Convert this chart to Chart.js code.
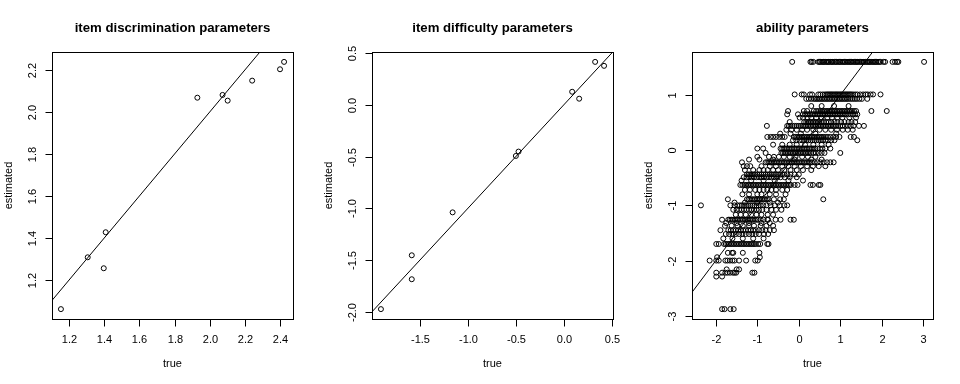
<!DOCTYPE html>
<html>
<head>
<meta charset="utf-8">
<script src="https://cdn.jsdelivr.net/npm/chart.js@4.4.1/dist/chart.umd.min.js"></script>
<style>
  html, body { margin: 0; padding: 0; background: #fff; }
  #wrap { position: relative; width: 960px; height: 384px; }
  canvas { position: absolute; top: 0; }
</style>
</head>
<body>
<div id="wrap">
  <canvas id="c1" width="320" height="384" style="left:0px"></canvas>
  <canvas id="c2" width="320" height="384" style="left:320px"></canvas>
  <canvas id="c3" width="320" height="384" style="left:640px"></canvas>
</div>
<script>
// ---------- DATA ----------
const titles = ["item discrimination parameters", "item difficulty parameters", "ability parameters"];
const xAxisLabel = "true";
const yAxisLabel = "estimated";

// panel 1: item discrimination
const discTrue = [1.155, 1.307, 1.398, 1.409, 1.929, 2.072, 2.101, 2.240, 2.398, 2.421];
const discEst  = [1.063, 1.309, 1.257, 1.428, 2.067, 2.080, 2.053, 2.148, 2.202, 2.237];
const discXTicks = [1.2, 1.4, 1.6, 1.8, 2.0, 2.2, 2.4];
const discXLabels = ["1.2", "1.4", "1.6", "1.8", "2.0", "2.2", "2.4"];
const discYTicks = [1.2, 1.4, 1.6, 1.8, 2.0, 2.2];
const discYLabels = ["1.2", "1.4", "1.6", "1.8", "2.0", "2.2"];

// panel 2: item difficulty
const diffTrue = [-1.904, -1.583, -1.583, -1.158, -0.500, -0.472, 0.086, 0.159, 0.325, 0.418];
const diffEst  = [-1.971, -1.452, -1.683, -1.038, -0.494, -0.452, 0.125, 0.058, 0.413, 0.375];
const diffXTicks = [-1.5, -1.0, -0.5, 0.0, 0.5];
const diffXLabels = ["-1.5", "-1.0", "-0.5", "0.0", "0.5"];
const diffYTicks = [-2.0, -1.5, -1.0, -0.5, 0.0, 0.5];
const diffYLabels = ["-2.0", "-1.5", "-1.0", "-0.5", "0.0", "0.5"];

// panel 3: ability (estimated levels, and true values read for each level)
const abilityEstLevels = [1.60, 1.01, 0.93, 0.80, 0.71, 0.65, 0.59, 0.51, 0.44, 0.37, 0.30, 0.24, 0.18, 0.10, 0.03, -0.05, -0.12,
  -0.17, -0.22, -0.29, -0.36, -0.44, -0.49, -0.55, -0.63, -0.72, -0.80, -0.89, -0.95, -1.00, -1.08, -1.17, -1.26, -1.32, -1.37, -1.45, -1.52,
  -1.60, -1.70, -1.86, -1.94, -2.00, -2.16, -2.22, -2.29, -2.88];
const abilityTrueByLevel = [
  [-0.16, 0.28, 0.31, 0.35, 0.47, 0.50, 0.52, 0.56, 0.59, 0.61, 0.65, 0.68, 0.71, 0.73, 0.77, 0.80, 0.82, 0.86, 0.89, 0.91, 0.95, 0.98, 1.00, 1.04, 1.07, 1.10, 1.12, 1.16, 1.19, 1.22, 1.25, 1.27, 1.31, 1.34, 1.37, 1.40, 1.42, 1.46, 1.49, 1.52, 1.55, 1.57, 1.61, 1.64, 1.67, 1.70, 1.72, 1.76, 1.79, 1.82, 1.85, 1.87, 1.91, 1.94, 1.97, 2.04, 2.08, 2.26, 2.32, 2.37, 2.40, 3.02],
  [-0.10, 0.07, 0.12, 0.27, 0.32, 0.47, 0.52, 0.58, 0.63, 0.67, 0.70, 0.73, 0.76, 0.79, 0.82, 0.85, 0.88, 0.91, 0.94, 0.97, 1.00, 1.03, 1.06, 1.09, 1.12, 1.15, 1.18, 1.21, 1.24, 1.27, 1.31, 1.36, 1.41, 1.48, 1.55, 1.61, 1.66, 1.73, 1.79, 1.97],
  [0.18, 0.24, 0.30, 0.36, 0.40, 0.44, 0.48, 0.52, 0.56, 0.60, 0.64, 0.68, 0.72, 0.76, 0.80, 0.84, 0.88, 0.92, 0.96, 1.00, 1.04, 1.08, 1.12, 1.16, 1.20, 1.25, 1.30, 1.35, 1.40, 1.46, 1.52, 1.65],
  [0.30, 0.55, 0.85, 1.20],
  [-0.26, 0.12, 0.20, 0.36, 0.42, 0.47, 0.52, 0.56, 0.60, 0.64, 0.68, 0.72, 0.76, 0.80, 0.84, 0.88, 0.92, 0.96, 1.00, 1.04, 1.08, 1.12, 1.16, 1.20, 1.24, 1.28, 1.33, 1.38, 1.75, 2.12],
  [-0.28, -0.02, 0.10, 0.15, 0.19, 0.23, 0.27, 0.31, 0.35, 0.39, 0.43, 0.47, 0.51, 0.55, 0.59, 0.63, 0.67, 0.71, 0.75, 0.79, 0.83, 0.87, 0.91, 0.95, 0.99, 1.03, 1.07, 1.11, 1.15, 1.20, 1.25, 1.31, 1.36, 1.41],
  [0.02, 0.10, 0.21, 0.30, 0.42, 0.55, 0.69, 0.80, 0.93, 1.05, 1.22, 1.38],
  [-0.22, 0.13, 0.18, 0.22, 0.26, 0.30, 0.34, 0.38, 0.42, 0.46, 0.50, 0.55, 0.60, 0.66, 0.72, 0.78, 0.86, 0.93, 1.02, 1.10, 1.20, 1.27, 1.36],
  [-0.77, -0.28, -0.24, -0.20, -0.15, -0.10, -0.05, 0.00, 0.05, 0.10, 0.14, 0.18, 0.22, 0.26, 0.30, 0.34, 0.38, 0.42, 0.46, 0.50, 0.54, 0.58, 0.62, 0.66, 0.70, 0.74, 0.78, 0.82, 0.86, 0.90, 0.95, 1.00, 1.05, 1.11, 1.18, 1.25, 1.32, 1.45, 1.57],
  [-0.30, -0.18, -0.05, 0.08, 0.20, 0.35, 0.50, 0.64, 0.78, 0.92, 1.06, 1.18, 1.30],
  [-0.45, -0.20, 0.05, 0.40, 0.90],
  [-0.76, -0.68, -0.62, -0.55, -0.47, -0.40, -0.34, -0.12, -0.08, -0.04, 0.00, 0.04, 0.08, 0.12, 0.16, 0.20, 0.24, 0.28, 0.32, 0.36, 0.40, 0.44, 0.48, 0.52, 0.56, 0.60, 0.65, 0.70, 0.76, 0.83, 0.90, 0.98, 1.25, 1.33],
  [-0.14, -0.06, 0.02, 0.08, 0.13, 0.18, 0.23, 0.28, 0.33, 0.38, 0.43, 0.48, 0.53, 0.58, 0.64, 0.70, 0.78, 0.86, 1.41],
  [-0.62, -0.40, -0.22, -0.05, 0.15, 0.35, 0.55, 0.72],
  [-1.00, -0.86, -0.44, -0.40, -0.36, -0.32, -0.28, -0.24, -0.20, -0.16, -0.12, -0.08, -0.04, 0.00, 0.04, 0.08, 0.12, 0.16, 0.20, 0.24, 0.28, 0.32, 0.36, 0.40, 0.45, 0.51, 0.57, 0.64, 0.76],
  [-0.80, -0.42, -0.38, -0.34, -0.30, -0.26, -0.22, -0.18, -0.14, -0.10, -0.06, -0.02, 0.02, 0.06, 0.10, 0.14, 0.18, 0.22, 0.26, 0.30, 0.35, 0.41, 0.48, 0.55, 0.62, 1.00],
  [-1.00, -0.72, -0.60, -0.48, -0.36, -0.22, -0.08, 0.08, 0.22, 0.40],
  [-1.20, -0.95, -0.62, -0.10, 0.30, 0.55],
  [-1.37, -0.80, -0.76, -0.72, -0.68, -0.64, -0.60, -0.56, -0.52, -0.48, -0.44, -0.40, -0.36, -0.32, -0.28, -0.24, -0.20, -0.16, -0.12, -0.08, -0.04, 0.00, 0.04, 0.08, 0.12, 0.16, 0.20, 0.24, 0.28, 0.32, 0.38, 0.45, 0.52, 0.60, 0.68, 0.76, 0.84],
  [-1.33, -1.25, -1.17, -0.90, -0.70, -0.55, -0.40, -0.25, -0.10, 0.05, 0.20, 0.34, 0.48, 0.64],
  [-1.30, -1.10, -0.95, -0.85, -0.75, -0.62, -0.50, -0.35, -0.20, -0.05, 0.10, 0.30],
  [-1.25, -1.21, -1.17, -1.13, -1.09, -1.05, -1.00, -0.95, -0.90, -0.85, -0.80, -0.75, -0.70, -0.65, -0.60, -0.55, -0.50, -0.45, -0.40, -0.35, -0.28, -0.20, -0.10, 0.00],
  [-1.33, -1.26, -1.20, -1.14, -1.08, -1.02, -0.96, -0.90, -0.84, -0.78, -0.72, -0.66, -0.60, -0.52, -0.44, -0.34, -0.22, -0.05],
  [-1.38, -1.15, -0.85, -0.58, -0.25, 0.10],
  [-1.41, -1.36, -1.31, -1.27, -1.23, -1.19, -1.15, -1.11, -1.07, -1.03, -0.99, -0.95, -0.91, -0.87, -0.83, -0.79, -0.75, -0.71, -0.67, -0.63, -0.59, -0.55, -0.51, -0.47, -0.43, -0.39, -0.35, -0.31, -0.27, -0.23, -0.19, -0.10, -0.03, 0.28, 0.34, 0.48, 0.52],
  [-1.30, -1.18, -1.05, -0.95, -0.85, -0.76, -0.66, -0.55, -0.40, -0.28],
  [-1.36, -1.20, -1.00, -0.90, -0.70, -0.55, -0.32],
  [-1.71, -1.25, -1.21, -1.17, -1.13, -1.09, -1.05, -1.01, -0.97, -0.93, -0.89, -0.85, -0.81, -0.77, -0.73, -0.60, -0.45, -0.36, 0.59],
  [-1.55, -1.30, -1.00, -0.70, -0.50],
  [-2.36, -1.65, -1.55, -1.48, -1.42, -1.37, -1.32, -1.27, -1.22, -1.17, -1.12, -1.07, -1.02, -0.97, -0.92, -0.86, -0.78, -0.68, -0.58, -0.46, -0.35, -0.28],
  [-1.58, -1.50, -1.44, -1.38, -1.32, -1.26, -1.20, -1.14, -1.08, -1.02, -0.96, -0.88, -0.78, -0.66, -0.55, -0.42],
  [-1.52, -1.40, -1.28, -1.15, -1.02, -0.90, -0.75, -0.62],
  [-1.85, -1.70, -1.66, -1.62, -1.58, -1.54, -1.50, -1.46, -1.42, -1.38, -1.34, -1.30, -1.26, -1.22, -1.18, -1.14, -1.10, -1.06, -1.02, -0.98, -0.92, -0.85, -0.76, -0.74, -0.56, -0.44, -0.20, -0.12],
  [-1.75, -1.50, -1.20, -0.90, -0.70],
  [-1.78, -1.62, -1.48, -1.35, -1.20, -1.08, -0.92, -0.78, -0.62],
  [-1.89, -1.70, -1.64, -1.58, -1.52, -1.46, -1.40, -1.34, -1.28, -1.22, -1.16, -1.10, -1.04, -0.96, -0.88, -0.80, -0.70, -0.60],
  [-1.76, -1.68, -1.60, -1.52, -1.44, -1.36, -1.28, -1.20, -1.12, -1.04, -0.96, -0.84, -0.74],
  [-1.82, -1.60, -1.35, -1.10, -0.85],
  [-1.99, -1.93, -1.80, -1.76, -1.72, -1.68, -1.64, -1.60, -1.56, -1.52, -1.48, -1.44, -1.40, -1.36, -1.32, -1.28, -1.24, -1.20, -1.16, -1.12, -1.08, -1.04, -0.98, -0.93, -0.76, -0.73],
  [-1.71, -1.61, -1.58, -1.35, -0.95],
  [-1.97, -0.94],
  [-2.15, -1.99, -1.93, -1.77, -1.72, -1.66, -1.60, -1.55, -1.44, -1.27, -1.05, -0.99],
  [-1.74, -1.50, -1.44],
  [-1.99, -1.85, -1.77, -1.72, -1.66, -1.59, -1.55, -1.51, -1.12, -1.07],
  [-1.99, -1.85],
  [-1.85, -1.79, -1.65, -1.57]
];
const abilXTicks = [-2, -1, 0, 1, 2, 3];
const abilXLabels = ["-2", "-1", "0", "1", "2", "3"];
const abilYTicks = [-3, -2, -1, 0, 1];
const abilYLabels = ["-3", "-2", "-1", "0", "1"];

// ---------- DRAWING ----------
const FONT = '"Liberation Sans", Arial, Helvetica, sans-serif';

function rRange(vals) { // R default axis range: data range extended by 4%
  const mn = Math.min(...vals), mx = Math.max(...vals), d = (mx - mn) * 0.04;
  return [mn - d, mx + d];
}

const rAxes = {
  id: 'rAxes',
  afterDraw(chart, args, o) {
    const { ctx, chartArea: a, scales: { x, y } } = chart;
    ctx.save();
    ctx.strokeStyle = '#000';
    ctx.lineWidth = 1;
    const L = Math.round(a.left) + 0.5, T = Math.round(a.top) + 0.5;
    const R = Math.round(a.right) + 0.5, B = Math.round(a.bottom) + 0.5;
    ctx.strokeRect(L, T, R - L, B - T);
    ctx.fillStyle = '#000';
    ctx.font = '11px ' + FONT;
    ctx.textAlign = 'center';
    ctx.textBaseline = 'middle';
    o.xTicks.forEach((v, i) => {
      const px = Math.round(x.getPixelForValue(v)) + 0.5;
      ctx.beginPath(); ctx.moveTo(px, B); ctx.lineTo(px, B + 7); ctx.stroke();
      ctx.fillText(o.xLabels[i], px, 340);
    });
    o.yTicks.forEach((v, i) => {
      const py = Math.round(y.getPixelForValue(v)) + 0.5;
      ctx.beginPath(); ctx.moveTo(L, py); ctx.lineTo(L - 7, py); ctx.stroke();
      ctx.save();
      ctx.translate(33, py);
      ctx.rotate(-Math.PI / 2);
      ctx.fillText(o.yLabels[i], 0, 0);
      ctx.restore();
    });
    // axis titles
    const cx = (a.left + a.right) / 2, cy = (a.top + a.bottom) / 2;
    ctx.fillText(xAxisLabel, cx, 364);
    ctx.save();
    ctx.translate(8.5, cy);
    ctx.rotate(-Math.PI / 2);
    ctx.fillText(yAxisLabel, 0, 0);
    ctx.restore();
    // main title
    ctx.font = 'bold 13.2px ' + FONT;
    ctx.fillText(o.title, cx, 28);
    ctx.restore();
  }
};

function makePanel(id, title, xs, ys, xTicks, xLabels, yTicks, yLabels) {
  const xr = rRange(xs), yr = rRange(ys);
  const pts = xs.map((v, i) => ({ x: v, y: ys[i] }));
  const lo = Math.min(xr[0], yr[0]) - 1, hi = Math.max(xr[1], yr[1]) + 1;
  new Chart(document.getElementById(id), {
    type: 'scatter',
    data: {
      datasets: [
        {
          data: pts,
          pointStyle: 'circle',
          pointRadius: 2.5,
          pointHoverRadius: 2.5,
          borderWidth: 1,
          borderColor: '#000',
          backgroundColor: 'rgba(0,0,0,0)',
          clip: 0
        },
        {
          type: 'line',
          data: [{ x: lo, y: lo }, { x: hi, y: hi }],
          borderColor: '#000',
          borderWidth: 1,
          pointRadius: 0,
          fill: false,
          clip: 0
        }
      ]
    },
    options: {
      responsive: false,
      animation: false,
      devicePixelRatio: 1,
      layout: { padding: { left: 0, top: 52, right: 27, bottom: 0 } },
      plugins: {
        legend: { display: false },
        tooltip: { enabled: false },
        title: { display: false },
        rAxes: { title, xTicks, xLabels, yTicks, yLabels }
      },
      scales: {
        x: {
          type: 'linear', min: xr[0], max: xr[1],
          grid: { display: false }, border: { display: false },
          ticks: { display: false },
          afterFit(s) { s.height = 65; }
        },
        y: {
          type: 'linear', min: yr[0], max: yr[1],
          grid: { display: false }, border: { display: false },
          ticks: { display: false },
          afterFit(s) { s.width = 52; }
        }
      }
    },
    plugins: [rAxes]
  });
}

const abilTrue = [], abilEst = [];
abilityEstLevels.forEach((lv, i) => {
  abilityTrueByLevel[i].forEach(t => { abilTrue.push(t); abilEst.push(lv); });
});

makePanel('c1', titles[0], discTrue, discEst, discXTicks, discXLabels, discYTicks, discYLabels);
makePanel('c2', titles[1], diffTrue, diffEst, diffXTicks, diffXLabels, diffYTicks, diffYLabels);
makePanel('c3', titles[2], abilTrue, abilEst, abilXTicks, abilXLabels, abilYTicks, abilYLabels);
</script>
</body>
</html>
